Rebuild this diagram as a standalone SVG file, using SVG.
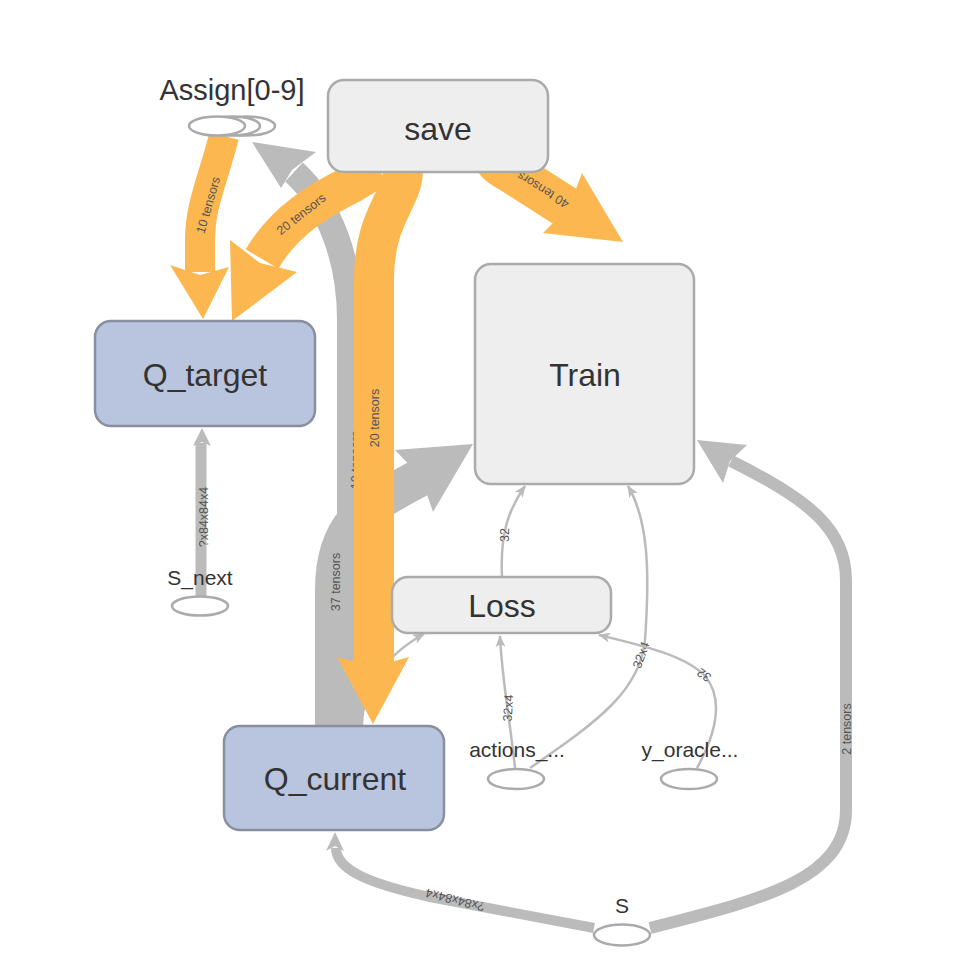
<svg xmlns="http://www.w3.org/2000/svg" width="960" height="960" viewBox="0 0 960 960">
<style>
.eg{fill:none;stroke:#bbb}
.eo{fill:none;stroke:#fdb750}
.hg{fill:#bbb}
.ho{fill:#fdb750}
.thin{fill:none;stroke:#bbb;stroke-width:2.5;marker-end:url(#ah)}
.el{font-family:"Liberation Sans",Arial,sans-serif;font-size:12.5px;fill:#555;text-anchor:middle}
.box{fill:#eee;stroke:#aaa;stroke-width:2.5}
.q{fill:#b9c4de;stroke:#878fa0;stroke-width:2.5}
.ell{fill:#fff;stroke:#aaa;stroke-width:2.5}
.nt{font-family:"Liberation Sans",Arial,sans-serif;font-size:32px;fill:#333;text-anchor:middle}
.st{font-size:21px}
.at{font-size:29px}
</style>
<defs>
<marker id="ah" viewBox="0 0 12 10" refX="11" refY="5" markerWidth="12" markerHeight="10" markerUnits="userSpaceOnUse" orient="auto">
<path d="M0,0 L12,5 L0,10 L3,5 z" fill="#bbb"/>
</marker>
</defs>
<rect width="960" height="960" fill="#fff"/>
<g id="edges">
  <!-- grey thick edges -->
  <g id="e-qcur-assign">
    <path class="eg" stroke-width="26" d="M350 726 L350 320 C350 260 330 205 294 172"/>
    <polygon class="hg" points="252,142 316,152 292,170 281,188"/>
    <text class="el" transform="translate(356,460) rotate(-90)" dy="0.35em">10 tensors</text>
  </g>
  <g id="e-qcur-train">
    <path class="eg" stroke-width="38" d="M334 726 L334 590 C334 520 370 505 421 477"/>
    <polygon class="hg" points="473,444 395,450 421,477 433,512"/>
    <text class="el" transform="translate(336,582) rotate(-90)" dy="0.35em">37 tensors</text>
  </g>
  <g id="e-s-qcur">
    <path class="eg" stroke-width="10" d="M594 928 L430 897 C370 884 336 870 336 848"/>
    <polygon class="hg" points="335,832 344,851 335,846 326,851"/>
    <text class="el" transform="translate(455,900) rotate(194)" dy="0.35em">?x84x84x4</text>
  </g>
  <g id="e-s-train">
    <path class="eg" stroke-width="12" d="M650 928 C760 900 846 880 846 810 L846 580 C846 530 810 500 731 461"/>
    <polygon class="hg" points="697,440 747,445 730,461 723,483"/>
    <text class="el" transform="translate(847,729) rotate(-90)" dy="0.35em">2 tensors</text>
  </g>
  <g id="e-snext-qtarget">
    <path class="eg" stroke-width="11" d="M201 597 L201 443"/>
    <polygon class="hg" points="202,428 211,446 202,442 193,446"/>
    <text class="el" transform="translate(204,517) rotate(-90)" dy="0.35em">?x84x84x4</text>
  </g>
  <!-- thin grey edges -->
  <g id="e-qcur-loss">
    <path class="thin" d="M362 726 C362 690 385 655 424 634"/>
  </g>
  <g id="e-loss-train">
    <path class="thin" d="M502 577 C500 535 508 510 525 486"/>
    <text class="el" transform="translate(505,535) rotate(-90)" dy="0.35em">32</text>
  </g>
  <g id="e-actions-loss">
    <path class="thin" d="M515 768 C510 720 502 680 500 636"/>
    <text class="el" transform="translate(508,708) rotate(-86)" dy="0.35em">32x4</text>
  </g>
  <g id="e-actions-train">
    <path class="thin" d="M530 768 C600 720 640 690 645 640 C650 570 648 520 628 486"/>
    <text class="el" transform="translate(641,655) rotate(-70)" dy="0.35em">32x4</text>
  </g>
  <g id="e-yoracle-loss">
    <path class="thin" d="M697 768 C715 735 725 700 705 676 C685 655 640 645 599 635"/>
    <text class="el" transform="translate(704,675) rotate(215)" dy="0.35em">32</text>
  </g>
  <!-- orange edges -->
  <g id="e-assign-qtarget">
    <path class="eo" stroke-width="30" d="M224 136 C213 180 200 205 200 240 L200 272"/>
    <polygon class="ho" points="203,319 229,267 200,275 170,265"/>
    <text class="el" transform="translate(208,205) rotate(-74)" dy="0.35em">10 tensors</text>
  </g>
  <g id="e-save-qtarget">
    <path class="eo" stroke-width="38" d="M378 168 L350 185 C320 200 285 220 262 259"/>
    <polygon class="ho" points="232,321 230,240 260,263 297,272"/>
    <text class="el" transform="translate(301,214) rotate(-38)" dy="0.35em">20 tensors</text>
  </g>
  <g id="e-save-qcur">
    <path class="eo" stroke-width="40" d="M403 170 C403 200 374 215 374 280 L374 667"/>
    <polygon class="ho" points="373,724 337,657 373,667 409,657"/>
    <text class="el" transform="translate(375,418) rotate(-90)" dy="0.35em">20 tensors</text>
  </g>
  <g id="e-save-train">
    <path class="eo" stroke-width="42" d="M492 150 C494 163 500 166 511 172 L569 209"/>
    <polygon class="ho" points="623,242 582,173 569,207 543,233"/>
    <text class="el" transform="translate(543,190) rotate(212)" dy="0.35em">40 tensors</text>
  </g>
</g>
<g id="node-save">
  <rect class="box" x="328" y="80" width="220" height="92" rx="16"/>
  <text class="nt" x="438" y="140">save</text>
</g>
<g id="node-train">
  <rect class="box" x="475" y="264" width="219" height="220" rx="16"/>
  <text class="nt" x="585" y="386">Train</text>
</g>
<g id="node-qtarget">
  <rect class="q" x="95" y="321" width="220" height="105" rx="16"/>
  <text class="nt" x="205" y="386">Q_target</text>
</g>
<g id="node-qcurrent">
  <rect class="q" x="224" y="726" width="220" height="104" rx="16"/>
  <text class="nt" x="335" y="790">Q_current</text>
</g>
<g id="node-loss">
  <rect class="box" x="392" y="577" width="219" height="56" rx="16"/>
  <text class="nt" x="502" y="617">Loss</text>
</g>
<g id="node-assign">
  <ellipse class="ell" cx="247" cy="126" rx="28" ry="9.5"/>
  <ellipse class="ell" cx="232" cy="126" rx="28" ry="9.5"/>
  <ellipse class="ell" cx="217" cy="126" rx="28" ry="9.5"/>
  <text class="nt at" x="232" y="100">Assign[0-9]</text>
</g>
<g id="node-snext">
  <ellipse class="ell" cx="200" cy="606" rx="28" ry="9.5"/>
  <text class="nt st" x="200" y="585">S_next</text>
</g>
<g id="node-actions">
  <ellipse class="ell" cx="516" cy="779" rx="28" ry="10"/>
  <text class="nt st" x="517" y="757">actions_...</text>
</g>
<g id="node-yoracle">
  <ellipse class="ell" cx="689" cy="779" rx="28" ry="10"/>
  <text class="nt st" x="690" y="757">y_oracle...</text>
</g>
<g id="node-s">
  <ellipse class="ell" cx="622" cy="935" rx="28" ry="10.5"/>
  <text class="nt st" x="622" y="913">S</text>
</g>
</svg>
